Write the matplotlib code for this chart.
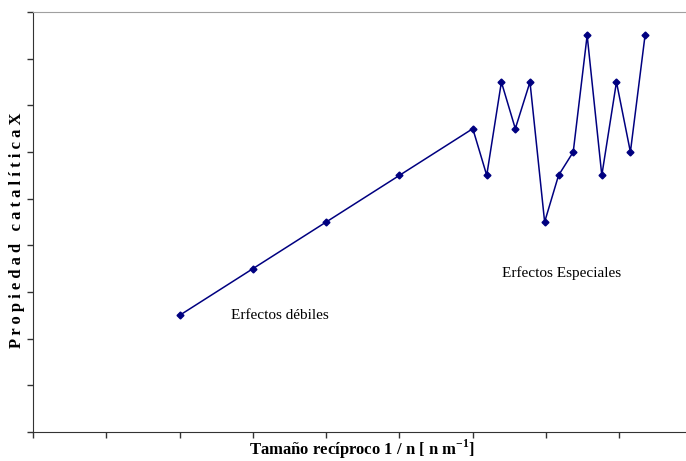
import matplotlib
matplotlib.use('Agg')
import matplotlib.pyplot as plt

# data
x_vals = [2, 3, 4, 5, 6, 6.19, 6.39, 6.58, 6.78, 6.98, 7.17, 7.37, 7.56, 7.76, 7.96, 8.15, 8.35]
y_vals = [2.5, 3.5, 4.5, 5.5, 6.5, 5.5, 7.5, 6.5, 7.5, 4.5, 5.5, 6.0, 8.5, 5.5, 7.5, 6.0, 8.5]

plt.rcParams['font.family'] = ['Liberation Serif', 'DejaVu Serif']
plt.rcParams['mathtext.fontset'] = 'custom'
plt.rcParams['mathtext.rm'] = 'Liberation Serif'
plt.rcParams['mathtext.bf'] = 'Liberation Serif:bold'

fig = plt.figure(figsize=(6.86, 4.61), dpi=100)
ax = fig.add_axes([33/686, 29/461, 653/686, 420/461])

ax.plot(x_vals, y_vals, color='#000080', lw=1.1, marker='D', ms=3.5)

ax.set_xlim(0, 653/73.3)
ax.set_ylim(0, 9)
ax.set_xticks(range(0, 9))
ax.set_yticks(range(0, 10))
ax.set_xticklabels([])
ax.set_yticklabels([])
ax.tick_params(direction='out', length=4, width=1, color='#333333')

ax.spines['right'].set_visible(False)
ax.spines['top'].set_color('#a0a0a0')
ax.spines['left'].set_color('#333333')
ax.spines['bottom'].set_color('#333333')

ax.text(2.7, 2.5, 'Erfectos débiles', fontsize=11, va='center')
ax.text(6.4, 3.4, 'Erfectos Especiales', fontsize=11, va='center')

# axis titles placed by hand in the margins
fig.text(362/686, 1 - 449/461, 'Tamaño recíproco 1 / n [ n m$^{\\mathbf{-1}}$]',
         fontsize=12, fontweight='bold', ha='center', va='center')
ylab = ' '.join('Propiedad') + '   ' + ' '.join('catalítica') + ' X'
fig.text(17/686, 1 - 230/461, ylab, fontsize=12, fontweight='bold',
         rotation=90, ha='center', va='center')

fig.savefig('out.png', dpi=100)
